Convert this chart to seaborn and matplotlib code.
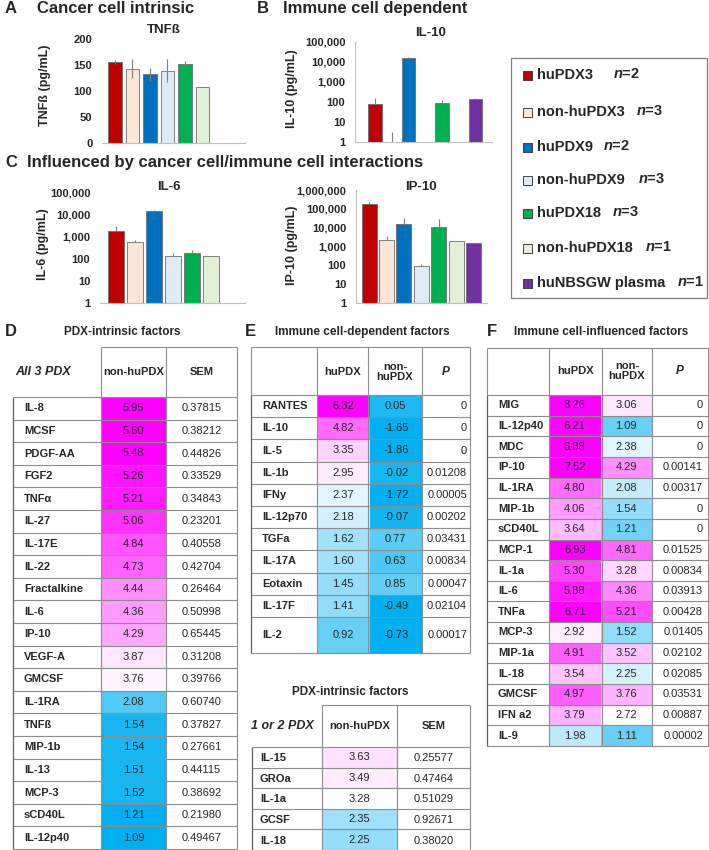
import numpy as np
import pandas as pd
import matplotlib
matplotlib.use('Agg')
import matplotlib.pyplot as plt
import seaborn as sns
from matplotlib.colors import LinearSegmentedColormap, TwoSlopeNorm
from matplotlib.patches import Rectangle
from matplotlib.ticker import NullLocator

W, H = 709, 850

# ---- bar chart data (pg/mL) ----
groups = ['huPDX3', 'non-huPDX3', 'huPDX9', 'non-huPDX9', 'huPDX18', 'non-huPDX18', 'huNBSGW plasma']
group_n = [2, 3, 2, 3, 3, 1, 1]
group_colors = ['#C00000', '#FBE5D6', '#0070C0', '#DEEBF7', '#00B050', '#E2F0D9', '#7030A0']

tnfb_mean = [155, 143, 132, 139, 152, 107, np.nan]
tnfb_err = [4, 18, 12, 22, 6, 0, np.nan]
il10_mean = [83, 1.0, 16000, np.nan, 90, np.nan, 140]
il10_err = [82, 2, 1000, np.nan, 30, np.nan, 10]
il6_mean = [1900, 575, 14500, 140, 180, 135, np.nan]
il6_err = [1300, 165, 2200, 40, 65, 0, np.nan]
ip10_mean = [180000, 2200, 15000, 87, 11200, 1950, 1550]
ip10_err = [40000, 1350, 16000, 38, 17800, 0, 0]

log_ticks = [1, 10, 100, 1000, 10000, 100000, 1000000]
log_labels = ['1', '10', '100', '1,000', '10,000', '100,000', '1,000,000']

# ---- table D: PDX-intrinsic factors, all 3 PDX ----
d_names = ['IL-8', 'MCSF', 'PDGF-AA', 'FGF2', 'TNFα', 'IL-27', 'IL-17E', 'IL-22', 'Fractalkine', 'IL-6',
           'IP-10', 'VEGF-A', 'GMCSF', 'IL-1RA', 'TNFß', 'MIP-1b', 'IL-13', 'MCP-3', 'sCD40L', 'IL-12p40']
d_nonhu = [5.95, 5.60, 5.48, 5.26, 5.21, 5.06, 4.84, 4.73, 4.44, 4.36,
           4.29, 3.87, 3.76, 2.08, 1.54, 1.54, 1.51, 1.52, 1.21, 1.09]
d_sem = ['0.37815', '0.38212', '0.44826', '0.33529', '0.34843', '0.23201', '0.40558', '0.42704', '0.26464', '0.50998',
         '0.65445', '0.31208', '0.39766', '0.60740', '0.37827', '0.27661', '0.44115', '0.38692', '0.21980', '0.49467']

# ---- table E: immune cell-dependent factors ----
e_names = ['RANTES', 'IL-10', 'IL-5', 'IL-1b', 'IFNy', 'IL-12p70', 'TGFa', 'IL-17A', 'Eotaxin', 'IL-17F', 'IL-2']
e_hu = [6.32, 4.82, 3.35, 2.95, 2.37, 2.18, 1.62, 1.60, 1.45, 1.41, 0.92]
e_nonhu = [0.05, -1.65, -1.86, -0.02, -1.72, -0.07, 0.77, 0.63, 0.85, -0.49, -0.73]
e_p = ['0', '0', '0', '0.01208', '0.00005', '0.00202', '0.03431', '0.00834', '0.00047', '0.02104', '0.00017']

# ---- table E2: PDX-intrinsic factors, 1 or 2 PDX ----
e2_names = ['IL-15', 'GROa', 'IL-1a', 'GCSF', 'IL-18']
e2_nonhu = [3.63, 3.49, 3.28, 2.35, 2.25]
e2_sem = ['0.25577', '0.47464', '0.51029', '0.92671', '0.38020']

# ---- table F: immune cell-influenced factors ----
f_names = ['MIG', 'IL-12p40', 'MDC', 'IP-10', 'IL-1RA', 'MIP-1b', 'sCD40L', 'MCP-1', 'IL-1a', 'IL-6',
           'TNFa', 'MCP-3', 'MIP-1a', 'IL-18', 'GMCSF', 'IFN a2', 'IL-9']
f_hu = [8.26, 6.21, 6.88, 7.52, 4.80, 4.06, 3.64, 6.93, 5.30, 5.88, 6.71, 2.92, 4.91, 3.54, 4.97, 3.79, 1.98]
f_nonhu = [3.06, 1.09, 2.38, 4.29, 2.08, 1.54, 1.21, 4.81, 3.28, 4.36, 5.21, 1.52, 3.52, 2.25, 3.76, 2.72, 1.11]
f_p = ['0', '0', '0', '0.00141', '0.00317', '0', '0', '0.01525', '0.00834', '0.03913',
       '0.00428', '0.01405', '0.02102', '0.02085', '0.03531', '0.00887', '0.00002']

sns.set_style('white')
plt.rcParams['font.family'] = ['Liberation Sans', 'DejaVu Sans']
plt.rcParams['mathtext.fontset'] = 'custom'
plt.rcParams['mathtext.it'] = 'Liberation Sans:italic:bold'
plt.rcParams['mathtext.rm'] = 'Liberation Sans:bold'

fig = plt.figure(figsize=(W / 100, H / 100), dpi=100)
cmap = LinearSegmentedColormap.from_list('bwm', ['#00B0F0', '#FFFFFF', '#FF00FF'])
LINE = '#8C8C8C'


def px_axes(x0, y0, x1, y1):
    return fig.add_axes([x0 / W, 1 - y1 / H, (x1 - x0) / W, (y1 - y0) / H])


def bar_panel(box, means, errs, log, ylim, xlim, width, left_spine):
    ax = px_axes(*box)
    df = pd.DataFrame({'group': groups, 'value': means}).dropna()
    sns.barplot(data=df, x='group', y='value', hue='group', order=groups, hue_order=groups,
                palette=dict(zip(groups, group_colors)), saturation=1, width=width,
                edgecolor='#6E6E6E', linewidth=0.6, errorbar=None, legend=False, ax=ax)
    if log:
        ax.set_yscale('log')
    pos = np.arange(len(groups))
    m = np.array(means, float)
    e = np.array(errs, float)
    ok = ~np.isnan(m) & (np.nan_to_num(e) > 0)
    lower = np.zeros_like(e) if log else e
    ax.errorbar(pos[ok], m[ok], yerr=[lower[ok], e[ok]], fmt='none', ecolor='#7F7F7F',
                elinewidth=0.8, capsize=0, zorder=3)
    ax.set_xlim(*xlim)
    ax.set_ylim(*ylim)
    ax.set_xticks([])
    ax.set_xlabel('')
    ax.set_ylabel('')
    if log:
        k = [t for t in log_ticks if t <= ylim[1]]
        ax.set_yticks(k)
        ax.set_yticklabels(log_labels[:len(k)], fontweight='bold')
        ax.yaxis.set_minor_locator(NullLocator())
    else:
        ax.set_yticks(np.arange(0, ylim[1] + 1, 50))
        ax.set_yticklabels([str(int(t)) for t in np.arange(0, ylim[1] + 1, 50)], fontweight='bold')
    ax.tick_params(axis='y', length=0, pad=7, labelsize=8)
    for s in ['top', 'right']:
        ax.spines[s].set_visible(False)
    ax.spines['bottom'].set_color('#BFBFBF')
    ax.spines['left'].set_color('#BFBFBF')
    ax.spines['left'].set_visible(left_spine)
    ax.patch.set_alpha(0)
    return ax


bar_panel((102, 39, 245, 143), tnfb_mean, tnfb_err, False, (0, 200), (-0.74, 7.43), 0.77, False)
bar_panel((355, 42, 492, 142), il10_mean, il10_err, True, (1, 1e5), (-1.2, 7.0), 0.8, True)
bar_panel((100, 193, 245, 303), il6_mean, il6_err, True, (1, 1e5), (-0.84, 6.8), 0.82, False)
bar_panel((356, 190, 487, 303), ip10_mean, ip10_err, True, (1, 1e6), (-0.75, 6.76), 0.86, True)


def heat(box, cols, norm):
    ax = px_axes(*box)
    arr = np.column_stack(cols)
    sns.heatmap(arr, ax=ax, cmap=cmap, norm=norm, cbar=False, annot=True, fmt='.2f',
                annot_kws={'fontsize': 8, 'color': '#262626'},
                xticklabels=False, yticklabels=False, linewidths=0)
    return ax


norm_d = TwoSlopeNorm(vmin=1.3, vcenter=3.7, vmax=5.4)
norm_e = TwoSlopeNorm(vmin=-0.3, vcenter=2.7, vmax=6.32)
norm_e2 = TwoSlopeNorm(vmin=0.8, vcenter=3.3, vmax=6.0)
norm_f = TwoSlopeNorm(vmin=0.0, vcenter=2.7, vmax=6.3)

d_edges = np.linspace(397, 849, len(d_names) + 1)
e_edges = np.append(np.linspace(395, 617, len(e_names)), 653)
e2_edges = np.linspace(747, 850, len(e2_names) + 1)
f_edges = np.linspace(395, 746, len(f_names) + 1)

heat((101, 397, 166, 849), [d_nonhu], norm_d)
heat((317, 395, 422, 617), [e_hu[:-1], e_nonhu[:-1]], norm_e)
heat((317, 617, 422, 653), [e_hu[-1:], e_nonhu[-1:]], norm_e)
heat((322, 747, 397, 850), [e2_nonhu], norm_e2)
heat((549, 395, 652, 746), [f_hu, f_nonhu], norm_f)

# ---- overlay canvas in pixel coordinates for texts and table rules ----
cv = fig.add_axes([0, 0, 1, 1])
cv.set_xlim(0, W)
cv.set_ylim(H, 0)
cv.axis('off')

big = dict(fontsize=12, fontweight='bold', va='center')
cv.text(5, 8, 'A', **big)
cv.text(37, 8, 'Cancer cell intrinsic', **big)
cv.text(257, 8, 'B', **big)
cv.text(283, 8, 'Immune cell dependent', **big)
cv.text(5, 162, 'C', **big)
cv.text(27, 162, 'Influenced by cancer cell/immune cell interactions', **big)
cv.text(5, 332, 'D', **big)
cv.text(245, 332, 'E', **big)
cv.text(487, 332, 'F', **big)

ct = dict(fontsize=9.5, fontweight='bold', ha='center', va='center')
cv.text(164, 30, 'TNFß', **ct)
cv.text(431, 33, 'IL-10', **ct)
cv.text(169, 187, 'IL-6', **ct)
cv.text(421, 187, 'IP-10', **ct)
yl = dict(fontsize=9, fontweight='bold', ha='center', va='center', rotation=90)
cv.text(45, 85, 'TNFß (pg/mL)', **yl)
cv.text(292, 89, 'IL-10 (pg/mL)', **yl)
cv.text(43, 244, 'IL-6 (pg/mL)', **yl)
cv.text(292, 245, 'IP-10 (pg/mL)', **yl)

# legend
cv.add_patch(Rectangle((511, 58), 196, 240, fill=False, edgecolor='#7F7F7F', lw=0.9))
leg_y = [75, 112, 147, 180, 213, 248, 283]
leg_nx = [613, 636, 603, 638, 612, 645, 677]
for g, n, c, y, nx in zip(groups, group_n, group_colors, leg_y, leg_nx):
    cv.add_patch(Rectangle((523, y - 4.5), 9, 9, facecolor=c, edgecolor='#404040', lw=0.7))
    cv.text(537, y, g, fontsize=10.5, fontweight='bold', va='center')
    cv.text(nx, y - 1, r'$n$=%d' % n, fontsize=10.5, fontweight='bold', va='center')

tt = dict(fontsize=8.5, fontweight='bold', ha='center', va='center')
cv.text(122, 332, 'PDX-intrinsic factors', **tt)
cv.text(362, 332, 'Immune cell-dependent factors', **tt)
cv.text(601, 332, 'Immune cell-influenced factors', **tt)
cv.text(350, 692, 'PDX-intrinsic factors', **tt)

hd = dict(fontsize=8, fontweight='bold', ha='center', va='center', linespacing=1.0)
lab = dict(fontsize=8, fontweight='bold', ha='left', va='center')
val = dict(fontsize=8, color='#262626', va='center')


def grid(cols, edges, head_top, head_x0):
    cv.hlines(head_top, head_x0, cols[-1], color=LINE, lw=0.8)
    for x in cols:
        if x >= head_x0:
            cv.vlines(x, head_top, edges[0], color=LINE, lw=0.8)
    cv.hlines(edges, cols[0], cols[-1], color=LINE, lw=0.8)
    cv.vlines(cols[1:], edges[0], edges[-1], color=LINE, lw=0.8)
    cv.vlines(cols[0], edges[0], edges[-1], color='#606060', lw=0.9)


# table D
d_cols = [13, 101, 166, 237]
grid(d_cols, d_edges, 347, 101)
cv.text(15, 372, 'All 3 PDX', fontsize=9, fontweight='bold', fontstyle='italic', va='center')
cv.text(133.5, 372, 'non-huPDX', **hd)
cv.text(201.5, 372, 'SEM', **hd)
mids = (d_edges[:-1] + d_edges[1:]) / 2
for name, sem, y in zip(d_names, d_sem, mids):
    cv.text(24, y, name, **lab)
    cv.text(201.5, y, sem, ha='center', **val)

# table E
e_cols = [251, 317, 368, 422, 470]
grid(e_cols, e_edges, 347, 251)
cv.text(342.5, 372, 'huPDX', **hd)
cv.text(395, 372, 'non-\nhuPDX', **hd)
cv.text(446, 372, 'P', fontsize=8.5, fontweight='bold', fontstyle='italic', ha='center', va='center')
mids = (e_edges[:-1] + e_edges[1:]) / 2
for name, p, y in zip(e_names, e_p, mids):
    cv.text(262, y, name, **lab)
    cv.text(467, y, p, ha='right', **val)

# table E2
e2_cols = [252, 322, 397, 470]
grid(e2_cols, e2_edges, 705, 322)
cv.text(282, 726, '1 or 2 PDX', fontsize=9, fontweight='bold', fontstyle='italic', ha='center', va='center')
cv.text(359.5, 726, 'non-huPDX', **hd)
cv.text(433.5, 726, 'SEM', **hd)
mids = (e2_edges[:-1] + e2_edges[1:]) / 2
for name, sem, y in zip(e2_names, e2_sem, mids):
    cv.text(260, y + 1, name, **lab)
    cv.text(433.5, y + 1, sem, ha='center', **val)

# table F
f_cols = [487, 549, 602, 652, 708]
grid(f_cols, f_edges, 348, 487)
cv.text(575.5, 371, 'huPDX', **hd)
cv.text(627, 371, 'non-\nhuPDX', **hd)
cv.text(680, 371, 'P', fontsize=8.5, fontweight='bold', fontstyle='italic', ha='center', va='center')
mids = (f_edges[:-1] + f_edges[1:]) / 2
for name, p, y in zip(f_names, f_p, mids):
    cv.text(498, y, name, **lab)
    cv.text(703, y, p, ha='right', **val)

fig.savefig('out.png', dpi=100)
